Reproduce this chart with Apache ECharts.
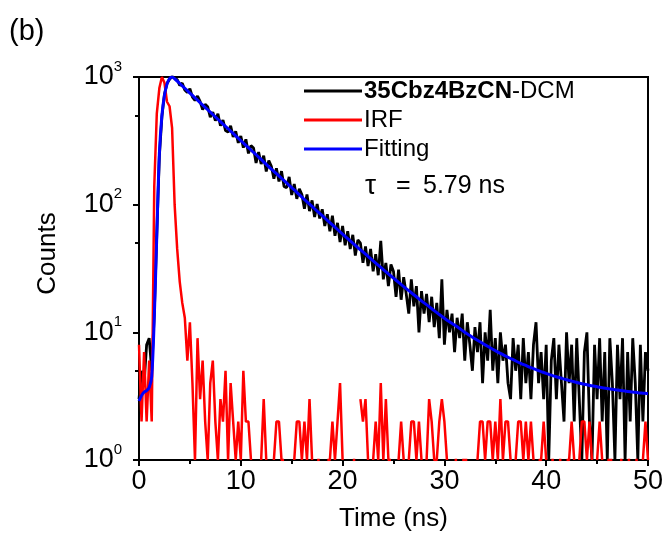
<!DOCTYPE html>
<html>
<head>
<meta charset="utf-8">
<script src="https://cdn.jsdelivr.net/npm/echarts@6/dist/echarts.min.js"></script>
<style>html,body{margin:0;padding:0;background:#fff}#c{width:667px;height:546px}</style>
</head>
<body>
<div id="c"></div>
<script>
// Time grid (ns), channel step 0.25 ns, 0..50
const timeStart = 0, timeStep = 0.25, timeCount = 201;
const time = Array.from({length: timeCount}, (_, i) => +(timeStart + i * timeStep).toFixed(2));

// 35Cbz4BzCN-DCM decay counts
const sampleCounts = [
 3,5,4,8,9,5,14,60,240,490,
 730,890,960,1010,985,955,860,895,790,755,
 810,695,655,710,645,555,610,585,485,530,
 455,515,415,460,380,370,415,340,375,305,
 345,280,325,252,290,278,212,258,208,242,
 182,222,200,160,193,152,183,139,136,165,
 119,145,111,133,120,93,120,89,108,80,
 101,78,92,68,84,62,82,57,72,51,
 68,48,62,45,58,40,53,50,35,47,
 33,45,30,41,28,52,26,35,23,34,
 30,19,31,18,27,20,14,26,16,23,
 10,21,14,20,12,19,11,17,9,26,
 8,15,10,14,7,13,9,14,6,12,
 8,5,11,7,12,4,10,6,15,5,
 9,4,10,6,8,4,3,9,5,8,
 3,9,4,7,3,8,12,4,7,3,
 8,1,6,9,3,8,4,2,10,4,
 8,2,9,3,1,7,10,2,1,8,
 3,9,2,7,1,9,4,1,8,3,
 9,1,7,2,9,4,1,8,2,7,
 5
];

// IRF counts (null = zero counts, not drawable on log axis)
const irfCounts = [
 8,2,7,2,6,2,140,520,820,1000,
 900,640,590,400,100,45,25,17,13,6,
 12,4,1,9,3,6,2,1,4,6,
 2,1,3,2,5,1,4,2,1,2,
 1,5,2,2,1,null,null,null,1,3,
 1,null,null,1,2,2,1,1,null,null,
 null,1,2,2,1,2,1,3,1,null,
 1,1,null,null,1,1,2,1,2,4,
 1,null,null,null,1,1,null,3,2,3,
 1,null,1,2,1,4,1,3,1,1,
 null,null,1,2,1,null,1,2,2,1,
 2,1,null,1,3,2,1,1,2,3,
 2,1,null,null,1,1,null,1,1,1,
 null,null,null,1,2,2,1,2,2,1,
 2,1,3,1,2,2,1,null,1,2,
 2,1,2,1,2,1,null,1,1,2,
 1,null,1,1,null,1,1,null,1,1,
 2,1,null,1,2,2,1,2,1,null,
 1,2,1,null,1,1,1,null,null,1,
 1,null,1,1,null,1,1,null,1,2,
 1
];

// Fitting curve
const fitTime = [0,0.25,0.5,0.75,1,1.25,1.5,1.75,2,2.25,2.5,2.75,3,3.25,3.5,
 4,4.5,5,5.5,6,6.5,7,7.5,8,8.5,9,9.5,10,10.5,11,11.5,12,12.5,13,13.5,
 14,14.5,15,15.5,16,16.5,17,17.5,18,18.5,19,19.5,20,20.5,21,21.5,22,22.5,23,23.5,
 24,24.5,25,25.5,26,26.5,27,27.5,28,28.5,29,29.5,30,30.5,31,31.5,32,32.5,33,33.5,
 34,34.5,35,35.5,36,36.5,37,37.5,38,38.5,39,39.5,40,40.5,41,41.5,42,42.5,43,43.5,
 44,44.5,45,45.5,46,46.5,47,47.5,48,48.5,49,49.5,50];
const fitCounts = [2.9,3.2,3.4,3.5,3.7,4.5,13,58,250,500,720,880,970,1000,969,
 889,816,748.5,687,630,578,531,487,447,410,
 377,346,317,291,268,246,226,207,190,175,
 161,148,136,125,114.5,105.3,96.9,89.1,82.0,75.4,
 69.4,63.9,58.9,54.3,50.0,46.1,42.6,39.3,36.3,33.6,
 31.0,28.7,26.6,24.6,22.8,21.2,19.7,18.3,17.0,15.9,
 14.8,13.8,12.9,12.1,11.4,10.7,10.0,9.46,8.92,8.43,
 7.98,7.57,7.19,6.84,6.53,6.24,5.97,5.72,5.50,5.29,
 5.10,4.93,4.77,4.62,4.49,4.37,4.25,4.15,4.05,3.96,
 3.89,3.81,3.75,3.68,3.63,3.58,3.53,3.48,3.44,3.41,
 3.37,3.34,3.31];

const xTicks = [0, 10, 20, 30, 40, 50];
const yMinorTicks = [5, 50, 500];
const seriesNames = ['35Cbz4BzCN-DCM', 'IRF', 'Fitting'];
const panelLabel = '(b)';

const FONT = '"Liberation Sans", Arial, Helvetica, sans-serif';
const chart = echarts.init(document.getElementById('c'), null, {renderer: 'canvas'});

const axisLineStyle = {color: '#000', width: 2};

chart.setOption({
  animation: false,
  backgroundColor: '#fff',
  grid: {left: 139, right: 19, top: 77, bottom: 86, show: true, borderColor: '#000', borderWidth: 2, backgroundColor: 'transparent'},
  legend: {
    data: seriesNames.map(n => ({name: n, icon: 'rect'})),
    orient: 'vertical',
    left: 299, top: 74,
    itemWidth: 58, itemHeight: 3, itemGap: 5,
    selectedMode: false,
    formatter: n => n === seriesNames[0] ? '{b|35Cbz4BzCN}{r|-DCM}' : '{r|' + n + '}',
    textStyle: {
      color: '#000', fontFamily: FONT, fontSize: 24, padding: [0, 0, 0, -3],
      rich: {
        b: {fontFamily: FONT, fontSize: 24, fontWeight: 'bold', color: '#000', lineHeight: 25},
        r: {fontFamily: FONT, fontSize: 24, color: '#000', lineHeight: 25}
      }
    }
  },
  graphic: [
    {type: 'text', left: 9, top: 17, style: {text: panelLabel, font: '29px ' + FONT, fill: '#000'}},
    {type: 'text', left: 365, top: 172, style: {
      text: '{t|τ}{e|=}{n|5.79 ns}',
      rich: {
        t: {font: '28px ' + FONT, fill: '#000', width: 31},
        e: {font: '25px ' + FONT, fill: '#000', width: 27},
        n: {font: '25px ' + FONT, fill: '#000'}
      }
    }}
  ],
  xAxis: {
    type: 'value', min: xTicks[0], max: xTicks[xTicks.length - 1], interval: 10,
    name: 'Time (ns)', nameLocation: 'middle', nameGap: 46,
    nameTextStyle: {fontFamily: FONT, fontSize: 26, color: '#000'},
    axisLine: {show: true, onZero: false, lineStyle: axisLineStyle},
    axisTick: {show: true, length: 6, lineStyle: axisLineStyle},
    minorTick: {show: true, splitNumber: 2, length: 4, lineStyle: axisLineStyle},
    axisLabel: {fontFamily: FONT, fontSize: 27, color: '#000', margin: 8},
    splitLine: {show: false}
  },
  yAxis: [
    {
      type: 'log', logBase: 10, min: 1, max: 1000,
      name: 'Counts', nameLocation: 'middle', nameGap: 78,
      nameTextStyle: {fontFamily: FONT, fontSize: 26, color: '#000', padding: [0, 0, 0, 30]},
      axisLine: {show: true, onZero: false, lineStyle: axisLineStyle},
      axisTick: {show: true, length: 6, lineStyle: axisLineStyle},
      axisLabel: {
        margin: 17,
        formatter: v => '{m|10}{s|' + Math.round(Math.log10(v)) + '}',
        rich: {
          m: {fontFamily: FONT, fontSize: 27, lineHeight: 36, color: '#000'},
          s: {fontFamily: FONT, fontSize: 15, lineHeight: 16, verticalAlign: 'top', color: '#000'}
        }
      },
      splitLine: {show: false}
    },
    {
      // log10(counts) scale, same extent as the log axis; carries the minor ticks at 5, 50, 500
      type: 'value', min: 0, max: 3, position: 'left',
      axisLine: {show: true, onZero: false, lineStyle: axisLineStyle},
      axisLabel: {show: false},
      axisTick: {show: true, length: 4, customValues: yMinorTicks.map(v => Math.log10(v)), lineStyle: axisLineStyle},
      splitLine: {show: false}
    }
  ],
  series: [
    {name: seriesNames[0], type: 'line', symbol: 'none', color: '#000',
     lineStyle: {color: '#000', width: 2.8}, data: time.map((t, i) => [t, sampleCounts[i]]), z: 2},
    {name: seriesNames[1], type: 'line', symbol: 'none', color: '#ff0000',
     lineStyle: {color: '#ff0000', width: 2.5}, data: time.map((t, i) => [t, irfCounts[i] == null ? null : irfCounts[i]]), z: 3},
    {name: seriesNames[2], type: 'line', symbol: 'none', color: '#0000ff', smooth: 0.3,
     lineStyle: {color: '#0000ff', width: 3}, data: fitTime.map((t, i) => [t, fitCounts[i]]), z: 4}
  ]
});
</script>
</body>
</html>
